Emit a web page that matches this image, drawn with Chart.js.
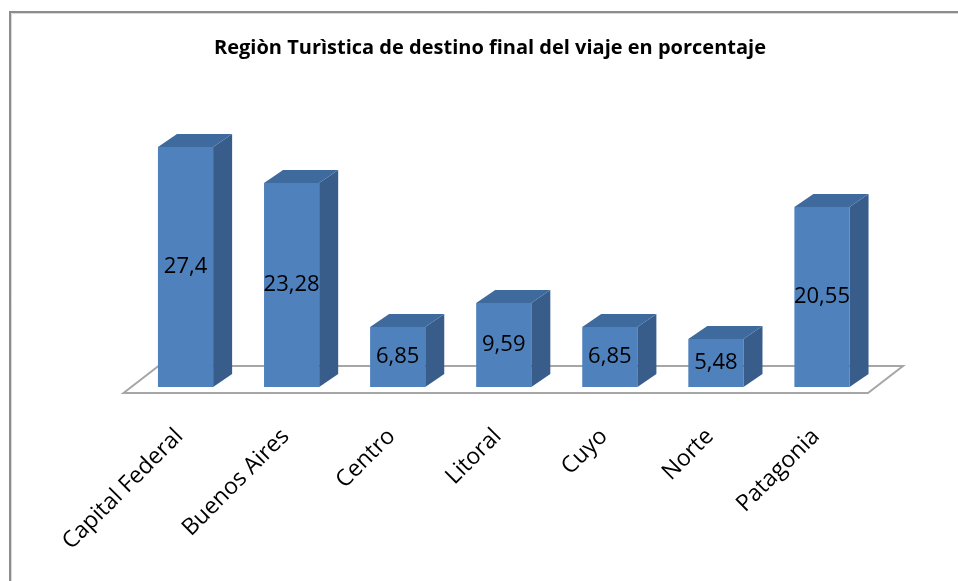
<!DOCTYPE html>
<html>
<head>
<meta charset="utf-8">
<script src="https://cdn.jsdelivr.net/npm/chart.js@4/dist/chart.umd.min.js"></script>
<style>
  html, body { margin: 0; padding: 0; background: #fff; }
  #wrap { position: relative; width: 958px; height: 581px; }
</style>
</head>
<body>
<div id="wrap"><canvas id="chart"></canvas></div>
<script>
"use strict";
const TITLE = "Regiòn Turìstica de destino final del viaje en porcentaje";
const regions = ["Capital Federal", "Buenos Aires", "Centro", "Litoral", "Cuyo", "Norte", "Patagonia"];
const shares = [27.4, 23.28, 6.85, 9.59, 6.85, 5.48, 20.55];
const yMin = 0, yMax = 30;

const FONT = "'Open Sans', 'Liberation Sans', sans-serif";
const FRONT = "#4f81bd", SIDE = "#385d8a", TOP = "#3f6a9e";
const DEPTH = { dx: 19, dy: -13 };

// chart frame: only top and left edges show in the picture
const frame = {
  id: "frame",
  beforeDraw(chart) {
    const ctx = chart.ctx;
    ctx.save();
    ctx.strokeStyle = "#8c8c8c"; ctx.lineWidth = 2;
    ctx.beginPath();
    ctx.moveTo(10, chart.height); ctx.lineTo(10, 12); ctx.lineTo(chart.width, 12);
    ctx.stroke();
    ctx.strokeStyle = "#d9d9d9"; ctx.lineWidth = 1;
    ctx.beginPath();
    ctx.moveTo(11.5, chart.height); ctx.lineTo(11.5, 13.5); ctx.lineTo(chart.width, 13.5);
    ctx.stroke();
    ctx.restore();
  }
};

// floor of the 3d plot, built from the axis extents
const floor3d = {
  id: "floor3d",
  beforeDatasetsDraw(chart) {
    const { ctx, scales: { x, y } } = chart;
    const y0 = y.getPixelForValue(0);
    ctx.save();
    ctx.beginPath();
    ctx.moveTo(x.left - 9, y0 + 6);
    ctx.lineTo(x.left + 26, y0 - 21);
    ctx.lineTo(x.right + 28, y0 - 21);
    ctx.lineTo(x.right - 7, y0 + 6);
    ctx.closePath();
    ctx.fillStyle = "#fff"; ctx.fill();
    ctx.strokeStyle = "#a6a6a6"; ctx.lineWidth = 2; ctx.stroke();
    ctx.restore();
  }
};

// side + top faces of every bar, then value labels in the middle of the front
const bars3d = {
  id: "bars3d",
  afterDatasetsDraw(chart) {
    const ctx = chart.ctx;
    const meta = chart.getDatasetMeta(0);
    ctx.save();
    meta.data.forEach((b, i) => {
      const l = b.x - b.width / 2, r = b.x + b.width / 2;
      ctx.fillStyle = SIDE;
      ctx.beginPath();
      ctx.moveTo(r, b.y); ctx.lineTo(r + DEPTH.dx, b.y + DEPTH.dy);
      ctx.lineTo(r + DEPTH.dx, b.base + DEPTH.dy); ctx.lineTo(r, b.base);
      ctx.closePath(); ctx.fill();
      ctx.fillStyle = TOP;
      ctx.beginPath();
      ctx.moveTo(l, b.y); ctx.lineTo(l + DEPTH.dx, b.y + DEPTH.dy);
      ctx.lineTo(r + DEPTH.dx, b.y + DEPTH.dy); ctx.lineTo(r, b.y);
      ctx.closePath(); ctx.fill();

      ctx.fillStyle = "#000";
      ctx.font = "22px " + FONT;
      ctx.textAlign = "center"; ctx.textBaseline = "middle";
      ctx.fillText(String(shares[i]).replace(".", ","), b.x, (b.y + b.base) / 2);
    });
    ctx.restore();
  }
};

new Chart(document.getElementById("chart"), {
  type: "bar",
  data: {
    labels: regions,
    datasets: [{ data: shares, backgroundColor: FRONT, borderWidth: 0, barPercentage: 0.52, categoryPercentage: 1 }]
  },
  options: {
    responsive: true,
    maintainAspectRatio: false,
    animation: false,
    events: [],
    layout: { padding: { left: 105, right: 83, top: 36, bottom: 0 } },
    plugins: {
      legend: { display: false },
      tooltip: { enabled: false },
      title: {
        display: true, text: TITLE, color: "#000",
        font: { family: FONT, size: 20, weight: "bold" },
        padding: { top: 0, bottom: 64.2 }
      }
    },
    scales: {
      x: {
        grid: { display: false, drawTicks: false },
        border: { display: false },
        ticks: { minRotation: 45, maxRotation: 45, padding: 36, labelOffset: -6, color: "#000", font: { family: FONT, size: 23 } },
        afterFit: s => { s.height = 194; }
      },
      y: {
        min: yMin, max: yMax,
        grid: { display: false, drawTicks: false },
        border: { display: false },
        ticks: { display: false },
        afterFit: s => { s.width = 27.5; }
      }
    }
  },
  plugins: [frame, floor3d, bars3d]
});
</script>
</body>
</html>
